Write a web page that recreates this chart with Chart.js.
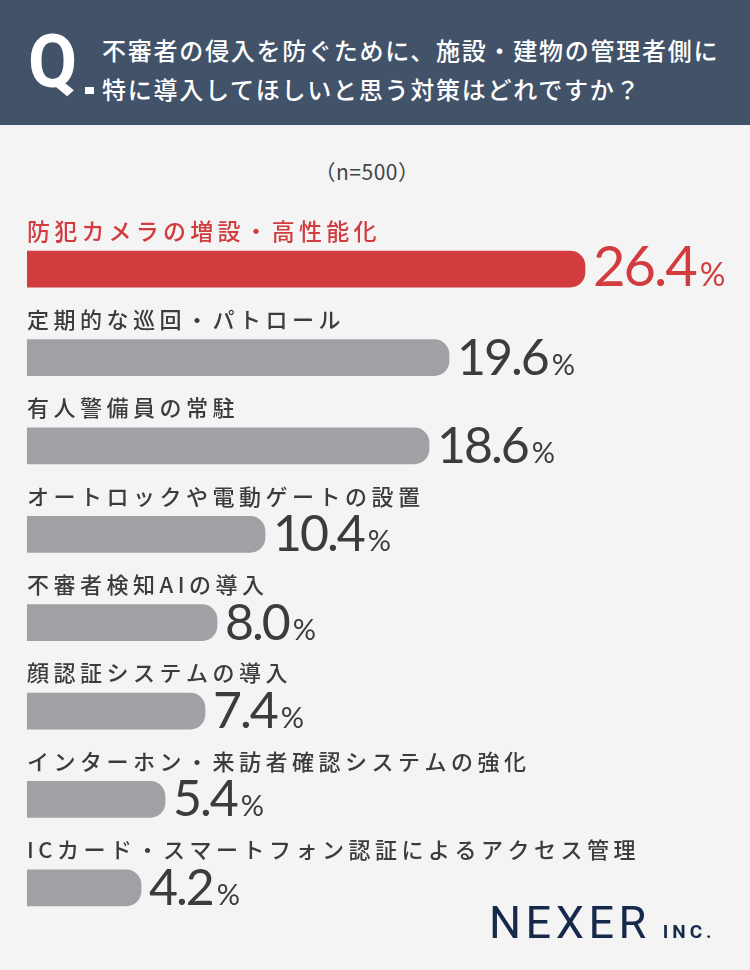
<!DOCTYPE html>
<html lang="ja">
<head>
<meta charset="utf-8">
<script src="https://cdn.jsdelivr.net/npm/chart.js@4.4.1/dist/chart.umd.min.js"></script>
<style>
  body { margin: 0; width: 750px; height: 970px; background: #f4f4f4; position: relative; overflow: hidden;
         font-family: "Noto Sans CJK JP", sans-serif; }
  .head { position: absolute; left: 0; top: 0; width: 750px; height: 125px; background: #425369; color: #fff; z-index: 2; }
  .q { position: absolute; left: 28px; top: 24px; font: 700 75px Roboto, sans-serif; line-height: 1;
       transform: scaleX(0.95); transform-origin: left top; }
  .qdot { position: absolute; left: 85px; top: 87px; width: 9px; height: 7px; background: #fff; }
  .title { position: absolute; left: 102px; top: 30px; font-size: 24px; font-weight: 500; line-height: 39px; letter-spacing: 1.75px; white-space: nowrap; }
  .n { position: absolute; left: -8px; top: 157px; width: 750px; text-align: center; font-size: 21px; line-height: 28px; letter-spacing: 0.5px; color: #444; }
  .chart-box { position: absolute; left: 0; top: 0; width: 750px; height: 970px; }
  .logo { position: absolute; left: 489px; top: 900px; color: #152a4a; font-family: Roboto, sans-serif; line-height: 1; white-space: nowrap; }
  .logo .big { font-size: 45px; letter-spacing: 4.5px; }
  .logo .small { font-size: 19px; font-weight: 700; letter-spacing: 4px; margin-left: 12px; }
</style>
</head>
<body>
<div class="head">
  <div class="q">Q</div>
  <div class="qdot"></div>
  <div class="title">不審者の侵入を防ぐために、施設・建物の管理者側に<br>特に導入してほしいと思う対策はどれですか？</div>
</div>
<div class="n">（n=500）</div>
<div class="chart-box"><canvas id="chart"></canvas></div>
<div class="logo"><span class="big">NEXER</span><span class="small">INC.</span></div>

<script>
'use strict';
// 回答項目
const categories = [
  '防犯カメラの増設・高性能化',
  '定期的な巡回・パトロール',
  '有人警備員の常駐',
  'オートロックや電動ゲートの設置',
  '不審者検知AIの導入',
  '顔認証システムの導入',
  'インターホン・来訪者確認システムの強化',
  'ICカード・スマートフォン認証によるアクセス管理'
];
// 回答率（%）
const values = [26.4, 19.6, 18.6, 10.4, 8.0, 7.4, 5.4, 4.2];

const RED = '#d23c3e';
const GRAY = '#a0a1a5';
const TEXT = '#3c3c3c';

// 項目名と数値をバーの上・右に描く
const barText = {
  id: 'barText',
  afterDatasetsDraw(chart) {
    const ctx = chart.ctx;
    const meta = chart.getDatasetMeta(0);
    const left = chart.chartArea.left;
    meta.data.forEach((bar, i) => {
      const top = i === 0;
      ctx.save();
      ctx.fillStyle = top ? RED : TEXT;
      // 項目名
      ctx.font = (top ? '500 23px' : '500 22px') + ' "Noto Sans CJK JP", sans-serif';
      ctx.letterSpacing = top ? '4.2px' : '4.5px';
      ctx.textBaseline = 'middle';
      ctx.textAlign = 'left';
      ctx.fillText(categories[i], left, bar.y - 38);
      // 数値
      const bottom = bar.y + bar.height / 2 - 1;
      ctx.textBaseline = 'alphabetic';
      ctx.letterSpacing = '-2px';
      ctx.font = (top ? '400 56px' : '400 50px') + ' Lato, sans-serif';
      const num = values[i].toFixed(1);
      const x0 = bar.x + 8;
      ctx.fillText(num, x0, bottom);
      const w = ctx.measureText(num).width;
      ctx.letterSpacing = '0px';
      ctx.font = (top ? '400 32px' : '400 29px') + ' Lato, sans-serif';
      ctx.fillText('%', x0 + w + 4, bottom);
      ctx.restore();
    });
  }
};

const ctx = document.getElementById('chart').getContext('2d');
const chart = new Chart(ctx, {
  type: 'bar',
  data: {
    labels: categories,
    datasets: [{
      data: values,
      backgroundColor: values.map((v, i) => i === 0 ? RED : GRAY),
      base: -1.5,
      barThickness: 36,
      borderRadius: 15,
      borderSkipped: 'start'
    }]
  },
  options: {
    indexAxis: 'y',
    responsive: true,
    maintainAspectRatio: false,
    animation: false,
    layout: { padding: { left: 27, right: 93, top: 225, bottom: 38 } },
    scales: {
      x: { min: -1.5, max: 30, display: false },
      y: { display: false }
    },
    plugins: {
      legend: { display: false },
      tooltip: { enabled: false }
    }
  },
  plugins: [barText]
});
</script>
</body>
</html>
